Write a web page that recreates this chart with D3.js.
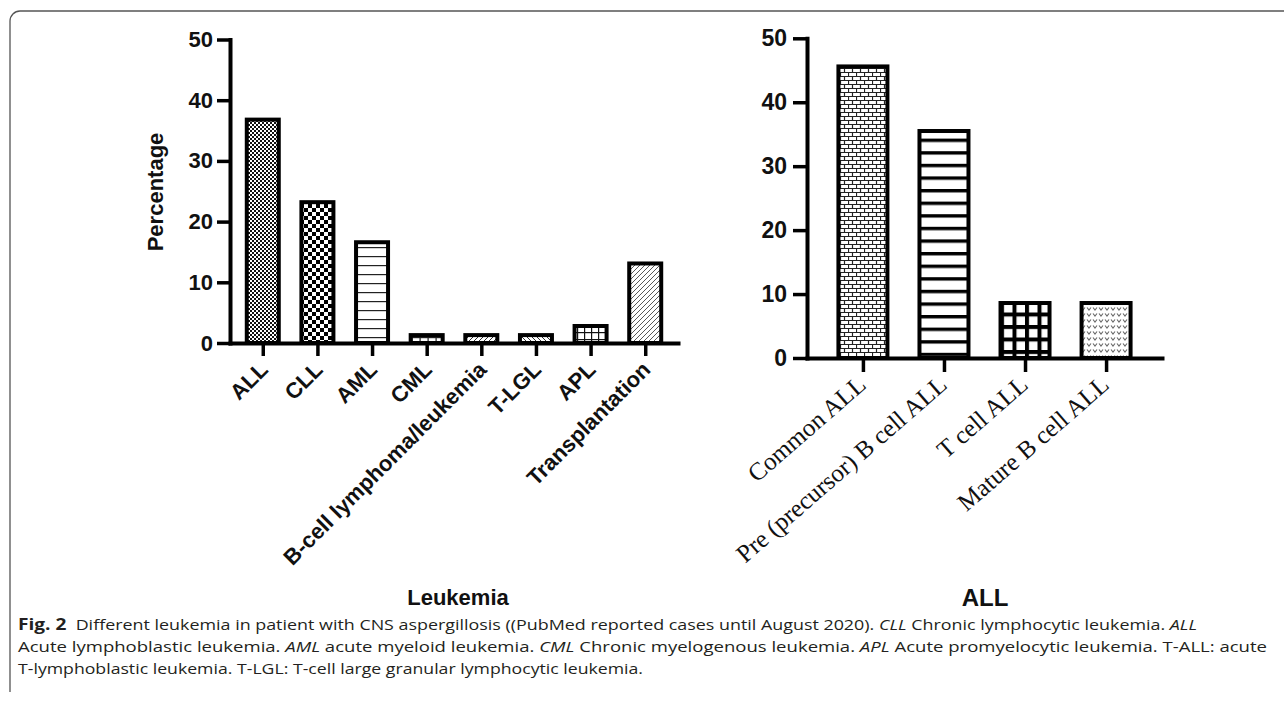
<!DOCTYPE html>
<html>
<head>
<meta charset="utf-8">
<script src="https://cdn.jsdelivr.net/npm/d3@7"></script>
<style>
  html, body { margin: 0; padding: 0; background: #fff; }
  svg { display: block; }
</style>
</head>
<body>
<svg id="chart" width="1284" height="704"></svg>
<script>
// ---------------- data ----------------
const leukemiaCategories = ["ALL", "CLL", "AML", "CML", "B-cell lymphoma/leukemia", "T-LGL", "APL", "Transplantation"];
const leukemiaValues = [36.8, 23.2, 16.6, 1.3, 1.3, 1.3, 2.8, 13.1];
const leukemiaPatterns = ["p-fine", "p-check", "p-hlines", "p-cml", "p-diag", "p-diagb", "p-grid", "p-hatch"];

const allCategories = ["Common ALL", "Pre (precursor) B cell ALL", "T cell ALL", "Mature B cell ALL"];
const allValues = [45.6, 35.5, 8.6, 8.6];
const allPatterns = ["p-brick", "p-thickh", "p-tgrid", "p-hearts"];

const yTicks = [0, 10, 20, 30, 40, 50];

const leftXTitle = "Leukemia";
const leftYTitle = "Percentage";
const rightXTitle = "ALL";

// ---------------- setup ----------------
const svg = d3.select("#chart");
const defs = svg.append("defs");

function pat(id, w, h, build) {
  const p = defs.append("pattern").attr("id", id).attr("patternUnits", "userSpaceOnUse")
    .attr("width", w).attr("height", h);
  p.append("rect").attr("width", w).attr("height", h).attr("fill", "#fff");
  build(p);
}
pat("p-fine", 4, 4, p => {
  p.append("rect").attr("x", 0).attr("y", 0).attr("width", 2).attr("height", 2).attr("fill", "#111");
  p.append("rect").attr("x", 2).attr("y", 2).attr("width", 2).attr("height", 2).attr("fill", "#111");
});
pat("p-check", 8, 8, p => {
  p.append("rect").attr("x", 0).attr("y", 0).attr("width", 4).attr("height", 4).attr("fill", "#000");
  p.append("rect").attr("x", 4).attr("y", 4).attr("width", 4).attr("height", 4).attr("fill", "#000");
});
pat("p-hlines", 10, 9, p => {
  p.append("rect").attr("x", 0).attr("y", 4).attr("width", 10).attr("height", 1.2).attr("fill", "#222");
});
pat("p-cml", 8, 5, p => {
  p.append("rect").attr("x", 0).attr("y", 2).attr("width", 8).attr("height", 1.2).attr("fill", "#222");
  p.append("rect").attr("x", 3.5).attr("y", 0).attr("width", 1.2).attr("height", 5).attr("fill", "#222");
});
pat("p-diag", 5, 5, p => {
  p.append("path").attr("d", "M-1,6 L6,-1 M-1,1 L1,-1 M4,6 L6,4").attr("stroke", "#333").attr("stroke-width", 1);
});
pat("p-diagb", 5, 5, p => {
  p.append("path").attr("d", "M-1,-1 L6,6 M4,-1 L6,1 M-1,4 L1,6").attr("stroke", "#333").attr("stroke-width", 1);
});
pat("p-grid", 7, 7, p => {
  p.append("rect").attr("x", 0).attr("y", 3).attr("width", 7).attr("height", 1.2).attr("fill", "#111");
  p.append("rect").attr("x", 3).attr("y", 0).attr("width", 1.2).attr("height", 7).attr("fill", "#111");
});
pat("p-hatch", 5, 5, p => {
  p.append("path").attr("d", "M-1,6 L6,-1 M-1,1 L1,-1 M4,6 L6,4").attr("stroke", "#444").attr("stroke-width", 0.9);
});
pat("p-brick", 8, 8, p => {
  p.append("path").attr("d", "M0,0.5 H8 M0,4.5 H8 M0.5,0 V4 M4.5,4 V8")
    .attr("stroke", "#222").attr("stroke-width", 1.2).attr("fill", "none");
});
pat("p-thickh", 20, 12.6, p => {
  p.append("rect").attr("x", 0).attr("y", 0).attr("width", 20).attr("height", 3.4).attr("fill", "#000");
});
pat("p-tgrid", 12.5, 12.5, p => {
  p.append("rect").attr("x", 0).attr("y", 0).attr("width", 12.5).attr("height", 4).attr("fill", "#000");
  p.append("rect").attr("x", 0).attr("y", 0).attr("width", 4).attr("height", 12.5).attr("fill", "#000");
});
pat("p-hearts", 6, 6, p => {
  p.append("path").attr("d", "M1,1.5 L3,4 L5,1.5").attr("stroke", "#666").attr("stroke-width", 1.1).attr("fill", "none");
});

// frame
svg.append("path")
  .attr("d", "M10,692 V21 A10,10 0 0 1 20,11 H1284")
  .attr("fill", "none").attr("stroke", "#555").attr("stroke-width", 1.3);

const sans = "'Liberation Sans', Arial, sans-serif";
const serif = "'Liberation Serif', 'Times New Roman', serif";

function drawPanel(cfg) {
  const g = svg.append("g");
  const y = d3.scaleLinear().domain([0, 50]).range([cfg.y0, cfg.y50]);
  const x = d3.scalePoint().domain(cfg.categories).range([cfg.left, cfg.right]).padding(cfg.pad);

  // bars
  g.selectAll("rect.bar").data(cfg.values).join("rect")
    .attr("class", "bar")
    .attr("x", (d, i) => x(cfg.categories[i]) - cfg.barW / 2)
    .attr("y", d => y(d))
    .attr("width", cfg.barW)
    .attr("height", d => y(0) - y(d))
    .attr("fill", (d, i) => `url(#${cfg.patterns[i]})`)
    .attr("stroke", "#000")
    .attr("stroke-width", 4);

  // y axis
  const ya = g.append("g").attr("transform", `translate(${cfg.left},0)`)
    .call(d3.axisLeft(y).tickValues(yTicks).tickSize(cfg.tickLen).tickSizeOuter(0).tickPadding(cfg.yPad));
  ya.select(".domain").attr("stroke-width", 4).attr("stroke-linecap", "square");
  ya.selectAll(".tick line").attr("stroke-width", 3.5);
  ya.selectAll(".tick text").attr("font-family", sans).attr("font-weight", "bold")
    .attr("font-size", cfg.yFont).attr("fill", "#111");

  // x axis
  const xa = g.append("g").attr("transform", `translate(0,${cfg.y0})`)
    .call(d3.axisBottom(x).tickSize(cfg.tickLen).tickSizeOuter(0));
  xa.select(".domain").attr("stroke-width", 4).attr("stroke-linecap", "square");
  xa.selectAll(".tick line").attr("stroke-width", 3.5);
  xa.selectAll(".tick text")
    .attr("font-family", cfg.xFontFamily).attr("font-weight", cfg.xWeight)
    .attr("font-size", cfg.xFont).attr("fill", "#111")
    .attr("text-anchor", "end")
    .attr("y", 0).attr("dy", 0)
    .attr("transform", `translate(${cfg.lblDx},${cfg.lblDy}) rotate(${cfg.angle})`);

  // titles
  g.append("text").attr("x", cfg.xTitleX).attr("y", cfg.xTitleY)
    .attr("text-anchor", "middle").attr("font-family", sans).attr("font-weight", "bold")
    .attr("font-size", cfg.titleFont).attr("fill", "#111").text(cfg.xTitle);
  if (cfg.yTitle) {
    g.append("text").attr("transform", `translate(${cfg.yTitleX},${cfg.yTitleY}) rotate(-90)`)
      .attr("text-anchor", "middle").attr("font-family", sans).attr("font-weight", "bold")
      .attr("font-size", cfg.titleFont).attr("fill", "#111").text(cfg.yTitle);
  }
}

drawPanel({
  categories: leukemiaCategories, values: leukemiaValues, patterns: leukemiaPatterns,
  left: 230, right: 678, pad: 0.6, y0: 343, y50: 39.5, barW: 32, tickLen: 13, yPad: 4,
  yFont: 22, xFont: 22, xFontFamily: sans, xWeight: "bold", angle: -45, lblDx: 6, lblDy: 28,
  xTitle: leftXTitle, xTitleX: 458, xTitleY: 605, titleFont: 22,
  yTitle: leftYTitle, yTitleX: 163, yTitleY: 192
});

drawPanel({
  categories: allCategories, values: allValues, patterns: allPatterns,
  left: 807, right: 1162, pad: 0.69, y0: 358, y50: 38.3, barW: 49, tickLen: 14, yPad: 6,
  yFont: 23, xFont: 25, xFontFamily: serif, xWeight: "normal", angle: -41, lblDx: 4, lblDy: 29,
  xTitle: rightXTitle, xTitleX: 985, xTitleY: 606, titleFont: 24
});

// caption
const capFont = "'Open Sans', 'Noto Sans', sans-serif";
const captionLines = [
  { y: 630, len: 1179, parts: [["Fig. 2", "b"], ["  Different leukemia in patient with CNS aspergillosis ((PubMed reported cases until August 2020). ", ""], ["CLL", "i"], [" Chronic lymphocytic leukemia. ", ""], ["ALL", "i"]] },
  { y: 652, len: 1249, parts: [["Acute lymphoblastic leukemia. ", ""], ["AML", "i"], [" acute myeloid leukemia. ", ""], ["CML", "i"], [" Chronic myelogenous leukemia. ", ""], ["APL", "i"], [" Acute promyelocytic leukemia. T-ALL: acute", ""]] },
  { y: 674, len: 625, parts: [["T-lymphoblastic leukemia. T-LGL: T-cell large granular lymphocytic leukemia.", ""]] }
];
captionLines.forEach(line => {
  const t = svg.append("text").attr("x", 18).attr("y", line.y)
    .attr("font-family", capFont).attr("font-size", 15).attr("fill", "#231f20")
    .attr("textLength", line.len).attr("lengthAdjust", "spacingAndGlyphs")
    .attr("xml:space", "preserve").style("white-space", "pre");
  line.parts.forEach(([s, st]) => {
    const ts = t.append("tspan").text(s);
    if (st === "b") ts.attr("font-weight", "bold").attr("font-size", 16);
    if (st === "i") ts.attr("font-style", "italic");
  });
});
</script>
</body>
</html>
